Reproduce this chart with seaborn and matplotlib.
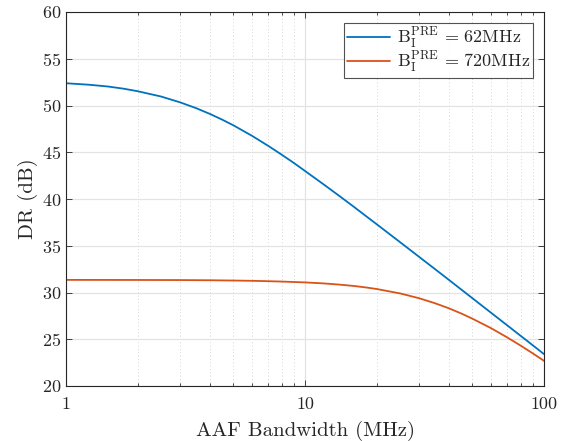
import matplotlib
matplotlib.use("Agg")
import matplotlib.pyplot as plt
import matplotlib.ticker as mticker
import seaborn as sns
import pandas as pd

# ---- data ----
bw_blue = [1, 1.25, 1.5, 1.75, 2, 2.5, 3, 3.5, 4, 4.5, 5, 6, 7, 8, 9, 10, 12, 14,
           16, 18, 20, 25, 30, 35, 40, 45, 50, 60, 70, 80, 90, 100]
dr_blue = [52.38, 52.22, 52.03, 51.79, 51.52, 50.96, 50.34, 49.72, 49.1, 48.49,
           47.9, 46.76, 45.7, 44.73, 43.84, 43.0, 41.54, 40.28, 39.17, 38.17,
           37.28, 35.38, 33.82, 32.5, 31.35, 30.33, 29.42, 27.84, 26.51, 25.35,
           24.33, 23.41]
bw_orange = [1, 2, 3, 4, 5, 6, 7, 8, 10, 12, 14, 16, 18, 20, 25, 30, 35, 40, 45,
             50, 60, 70, 80, 90, 100]
dr_orange = [31.35, 31.34, 31.33, 31.31, 31.28, 31.25, 31.21, 31.17, 31.08,
             30.97, 30.84, 30.7, 30.54, 30.37, 29.9, 29.39, 28.85, 28.31, 27.76,
             27.22, 26.19, 25.21, 24.31, 23.47, 22.69]
series_labels = [r"$\mathrm{B}_\mathrm{I}^\mathrm{PRE}\,=\,62\mathrm{MHz}$",
                 r"$\mathrm{B}_\mathrm{I}^\mathrm{PRE}\,=\,720\mathrm{MHz}$"]
series_colors = ["#0072BD", "#D95319"]
xlabel = "AAF Bandwidth (MHz)"
ylabel = "DR (dB)"
xticks = [1, 10, 100]
xticklabels = ["1", "10", "100"]
yticks = [20, 25, 30, 35, 40, 45, 50, 55, 60]

df = pd.concat([
    pd.DataFrame({"bw": bw_blue, "dr": dr_blue, "series": series_labels[0]}),
    pd.DataFrame({"bw": bw_orange, "dr": dr_orange, "series": series_labels[1]}),
], ignore_index=True)

sns.set_theme(style="white")
plt.rcParams["font.family"] = ["cmr10", "DejaVu Serif"]
plt.rcParams["mathtext.fontset"] = "cm"
plt.rcParams["axes.formatter.use_mathtext"] = True

fig = plt.figure(figsize=(5.73, 4.41), dpi=100)
ax = fig.add_axes([66/573, 1-386/441, (544-66)/573, (386-12)/441])

sns.lineplot(data=df, x="bw", y="dr", hue="series", palette=series_colors,
             hue_order=series_labels, ax=ax, linewidth=1.3, sort=True,
             estimator=None)

ax.set_xscale("log")
ax.set_xlim(1, 100)
ax.set_ylim(20, 60)
ax.set_xticks(xticks)
ax.set_xticklabels(xticklabels)
ax.xaxis.set_minor_locator(mticker.LogLocator(base=10, subs=range(2, 10)))
ax.xaxis.set_minor_formatter(mticker.NullFormatter())
ax.set_yticks(yticks)

axcol = "#262626"
for s in ax.spines.values():
    s.set_color(axcol)
    s.set_linewidth(0.8)
ax.tick_params(which="both", direction="in", top=True, right=True,
               bottom=True, left=True, color=axcol, labelcolor=axcol,
               labelsize=13, width=0.6)
ax.tick_params(which="major", length=4.5)
ax.tick_params(which="minor", length=2.5)
ax.tick_params(axis="x", pad=8)

ax.grid(True, which="major", axis="y", color="#e3e3e3", linewidth=0.9, linestyle="-")
ax.grid(True, which="major", axis="x", color="#e3e3e3", linewidth=0.9, linestyle="-")
ax.grid(True, which="minor", axis="x", color="#c8c8c8", linewidth=0.6, linestyle=(0, (1, 3)))
ax.set_axisbelow(True)

ax.set_xlabel(xlabel, fontsize=15, color=axcol, labelpad=6)
ax.set_ylabel(ylabel, fontsize=15, color=axcol, labelpad=3)

leg = ax.legend(loc="upper right", fontsize=13, frameon=True, fancybox=False,
                edgecolor="#262626", borderpad=0.15, handlelength=2.4,
                handletextpad=0.4, labelspacing=-0.05, borderaxespad=0.6)
leg.get_frame().set_linewidth(0.8)
leg.set_title(None)

fig.savefig("out.png", dpi=100)
